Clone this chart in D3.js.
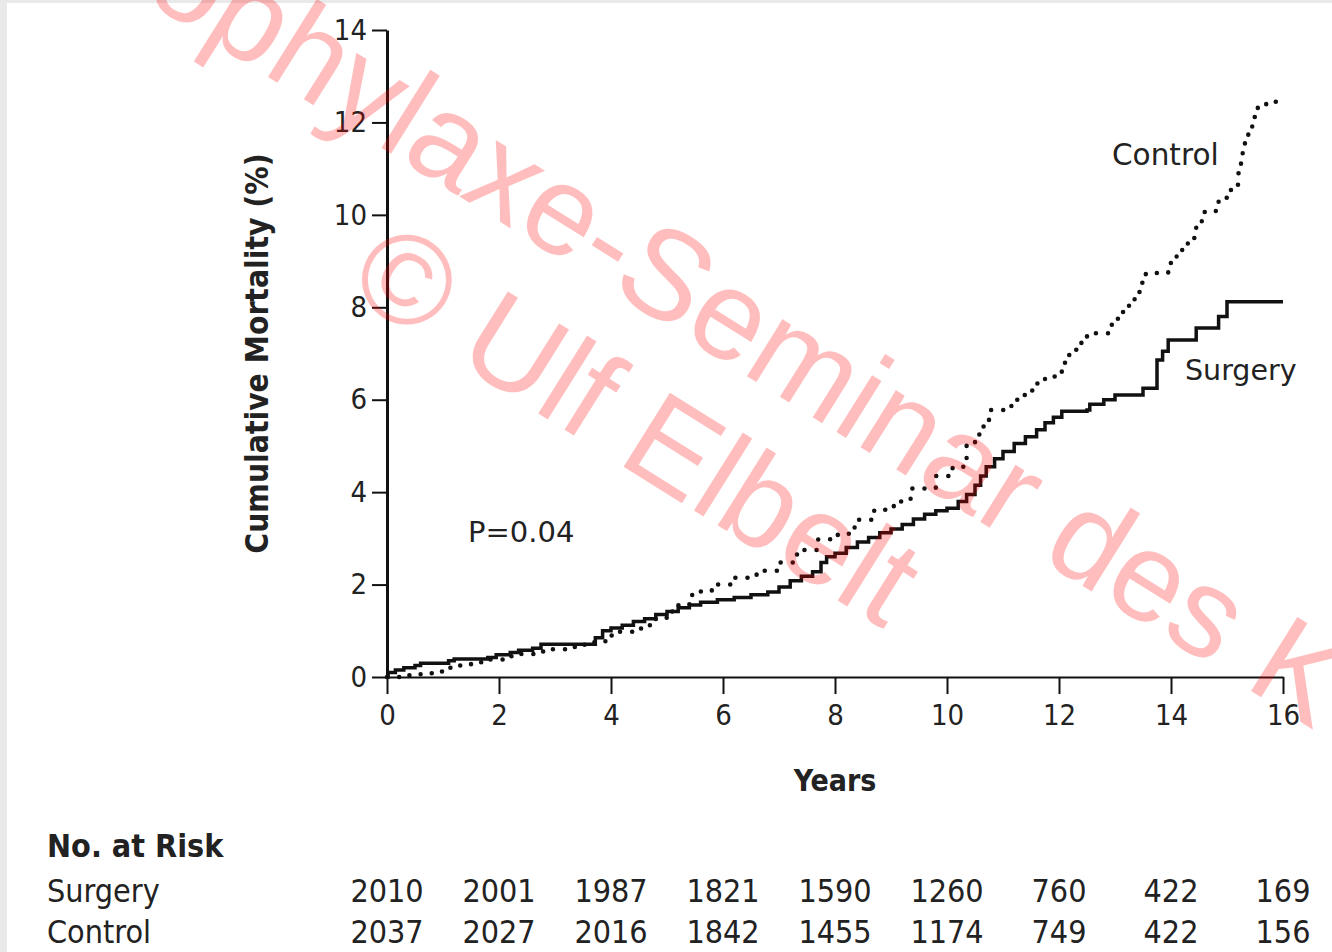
<!DOCTYPE html>
<html>
<head>
<meta charset="utf-8">
<script src="https://cdn.jsdelivr.net/npm/d3@7"></script>
<style>
  html, body { margin: 0; padding: 0; background: #fff; }
  svg { display: block; }
  .lbl { font-family: "DejaVu Sans Condensed", "DejaVu Sans", sans-serif; font-stretch: condensed; }
  .ann { font-family: "DejaVu Sans", sans-serif; }
</style>
</head>
<body>
<svg id="chart" width="1332" height="952"></svg>
<script>
// ---------- data ----------
const xTicks = [0, 2, 4, 6, 8, 10, 12, 14, 16];
const yTicks = [0, 2, 4, 6, 8, 10, 12, 14];

const surgeryT = [0, 0.02, 0.15, 0.3, 0.5, 0.6, 1.1, 1.2, 1.8, 1.95, 2.2, 2.35, 2.6, 2.75, 3.72, 3.85, 4.0, 4.2, 4.4, 4.6, 4.8, 5.0, 5.2, 5.4, 5.6, 5.9, 6.2, 6.5, 6.8, 7.0, 7.2, 7.4, 7.6, 7.75, 7.85, 8.0, 8.2, 8.4, 8.6, 8.8, 9.0, 9.2, 9.4, 9.6, 9.8, 10.0, 10.2, 10.35, 10.5, 10.6, 10.7, 10.85, 11.0, 11.2, 11.4, 11.6, 11.75, 11.9, 12.05, 12.5, 12.55, 12.8, 13.0, 13.5, 13.75, 13.85, 13.95, 14.45, 14.85, 15.0, 16];
const surgeryV = [0, 0.1, 0.15, 0.2, 0.25, 0.3, 0.35, 0.39, 0.42, 0.48, 0.53, 0.58, 0.62, 0.71, 0.85, 1.0, 1.06, 1.12, 1.2, 1.26, 1.35, 1.42, 1.5, 1.56, 1.62, 1.67, 1.72, 1.78, 1.84, 1.95, 2.08, 2.18, 2.28, 2.48, 2.6, 2.68, 2.8, 2.92, 3.02, 3.12, 3.2, 3.3, 3.42, 3.52, 3.6, 3.65, 3.8, 3.95, 4.15, 4.35, 4.55, 4.72, 4.88, 5.05, 5.2, 5.35, 5.5, 5.62, 5.75, 5.78, 5.9, 6.0, 6.1, 6.25, 6.86, 7.05, 7.29, 7.55, 7.8, 8.12, 8.12];

const controlT = [0, 0.3, 0.6, 0.9, 1.0, 1.2, 1.5, 1.8, 2.1, 2.4, 2.7, 2.9, 3.2, 3.5, 3.7, 3.9, 4.1, 4.4, 4.6, 4.8, 5.0, 5.2, 5.4, 5.45, 5.8, 6.2, 6.6, 7.0, 7.3, 7.45, 7.7, 8.05, 8.35, 8.7, 9.05, 9.35, 9.8, 10.1, 10.3, 10.35, 10.5, 10.6, 10.75, 11.15, 11.35, 11.45, 11.6, 11.75, 12.05, 12.12, 12.3, 12.4, 12.5, 12.9, 13.0, 13.1, 13.25, 13.35, 13.45, 13.55, 13.95, 14.1, 14.2, 14.3, 14.45, 14.55, 14.8, 14.85, 15.0, 15.15, 15.2, 15.25, 15.28, 15.32, 15.38, 15.45, 15.55, 15.7, 16];
const controlV = [0, 0.04, 0.08, 0.12, 0.2, 0.25, 0.32, 0.38, 0.45, 0.5, 0.55, 0.6, 0.65, 0.7, 0.75, 0.9, 0.98, 1.05, 1.12, 1.28, 1.42, 1.55, 1.7, 1.85, 2.0, 2.15, 2.3, 2.48, 2.65, 2.75, 2.98, 3.1, 3.4, 3.62, 3.8, 4.08, 4.35, 4.55, 4.7, 5.05, 5.25, 5.42, 5.78, 6.0, 6.1, 6.2, 6.35, 6.5, 6.8, 6.97, 7.08, 7.25, 7.44, 7.62, 7.75, 7.9, 8.1, 8.33, 8.53, 8.74, 8.96, 9.1, 9.3, 9.5, 9.74, 10.06, 10.2, 10.37, 10.54, 10.65, 10.9, 11.2, 11.45, 11.65, 11.85, 12.12, 12.35, 12.45, 12.45];

const riskYears = [0, 2, 4, 6, 8, 10, 12, 14, 16];
const surgeryRisk = [2010, 2001, 1987, 1821, 1590, 1260, 760, 422, 169];
const controlRisk = [2037, 2027, 2016, 1842, 1455, 1174, 749, 422, 156];
const riskGroups = ["Surgery", "Control"];

// ---------- drawing ----------
const svg = d3.select("#chart");
const W = 1332, H = 952;

svg.append("rect").attr("width", W).attr("height", H).attr("fill", "#e9e9e9");
svg.append("rect").attr("x", 7).attr("y", 3).attr("width", W - 7).attr("height", H - 3).attr("fill", "#ffffff");

const x = d3.scaleLinear().domain([0, 16]).range([387, 1283]);
const y = d3.scaleLinear().domain([0, 14]).range([677, 30]);

const textColor = "#222";

// y axis
const gy = svg.append("g").attr("transform", `translate(${x(0)},0)`)
  .call(d3.axisLeft(y).tickValues(yTicks).tickSize(15).tickSizeOuter(0).tickPadding(5));
gy.select(".domain").attr("stroke", "#111").attr("stroke-width", 3);
gy.selectAll(".tick line").attr("stroke", "#111").attr("stroke-width", 2);
gy.selectAll(".tick text").attr("class", "lbl").attr("font-size", 29).attr("fill", textColor);

// x axis
const gx = svg.append("g").attr("transform", `translate(0,${y(0)})`)
  .call(d3.axisBottom(x).tickValues(xTicks).tickSize(17).tickSizeOuter(0).tickPadding(6));
gx.select(".domain").attr("stroke", "#111").attr("stroke-width", 2);
gx.selectAll(".tick line").attr("stroke", "#111").attr("stroke-width", 2);
gx.selectAll(".tick text").attr("class", "lbl").attr("font-size", 29).attr("fill", textColor).attr("dy", "0.87em");

// axis titles
svg.append("text").attr("class", "lbl")
  .attr("transform", `translate(268,353.5) rotate(-90)`)
  .attr("text-anchor", "middle").attr("font-size", 31.5).attr("font-weight", "bold").attr("fill", textColor)
  .text("Cumulative Mortality (%)");

svg.append("text").attr("class", "lbl")
  .attr("x", (x(0) + x(16)) / 2).attr("y", 791)
  .attr("text-anchor", "middle").attr("font-size", 30).attr("font-weight", "bold").attr("fill", textColor)
  .text("Years");

// curves
const line = d3.line().x(d => x(d[0])).y(d => y(d[1])).curve(d3.curveStepAfter);
const surgery = surgeryT.map((t, i) => [t, surgeryV[i]]);
const control = controlT.map((t, i) => [t, controlV[i]]);

svg.append("path").datum(control)
  .attr("d", line).attr("fill", "none").attr("stroke", "#111")
  .attr("stroke-width", 4.5).attr("stroke-linecap", "round").attr("stroke-dasharray", "0.1 12");

svg.append("path").datum(surgery)
  .attr("d", line).attr("fill", "none").attr("stroke", "#111")
  .attr("stroke-width", 3.5).attr("stroke-linejoin", "miter");

// annotations
svg.append("text").attr("class", "ann").attr("x", 468).attr("y", 542)
  .attr("font-size", 29).attr("fill", textColor).text("P=0.04");
svg.append("text").attr("class", "ann").attr("x", 1112).attr("y", 165)
  .attr("font-size", 29.5).attr("fill", textColor).text("Control");
svg.append("text").attr("class", "ann").attr("x", 1185).attr("y", 380)
  .attr("font-size", 28.5).attr("fill", textColor).text("Surgery");

// number at risk table
svg.append("text").attr("class", "lbl").attr("x", 47).attr("y", 857)
  .attr("font-size", 32).attr("font-weight", "bold").attr("fill", textColor).text("No. at Risk");

const rows = [surgeryRisk, controlRisk];
const rowY = [902, 943];
rows.forEach((vals, r) => {
  svg.append("text").attr("class", "lbl").attr("x", 47).attr("y", rowY[r])
    .attr("font-size", 32).attr("fill", textColor).text(riskGroups[r]);
  svg.append("g").selectAll("text").data(vals).join("text")
    .attr("class", "lbl")
    .attr("x", (d, i) => x(riskYears[i])).attr("y", rowY[r])
    .attr("text-anchor", "middle").attr("font-size", 32).attr("fill", textColor)
    .text(d => d);
});

// watermark
const wm = svg.append("g").attr("font-family", "'Liberation Sans', Arial, sans-serif")
  .attr("font-size", 127).attr("fill", "rgba(255,0,0,0.26)");
wm.append("text").attr("transform", "translate(33,-70) rotate(32)").text("Prophylaxe-Seminar des K");
wm.append("text").attr("transform", "translate(344,292) rotate(32)").text("© Ulf Elbelt");
</script>
</body>
</html>
